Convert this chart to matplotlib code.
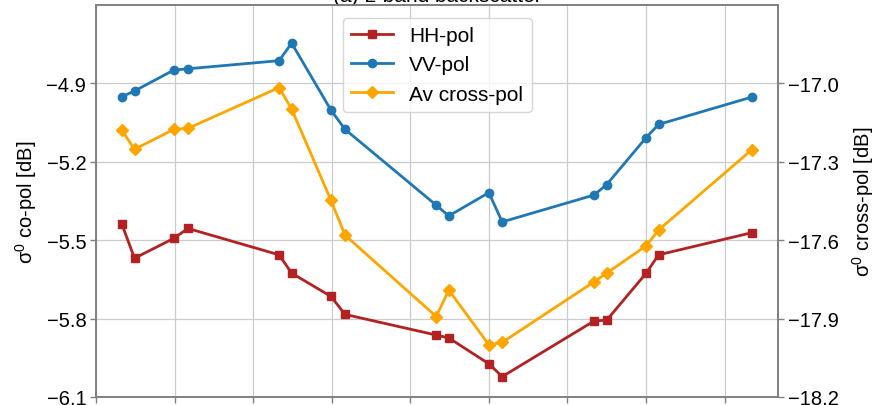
import matplotlib
matplotlib.use("Agg")
import matplotlib.pyplot as plt

plt.rcParams['font.family'] = ['Liberation Sans', 'DejaVu Sans']
plt.rcParams['mathtext.fontset'] = 'custom'
plt.rcParams['mathtext.rm'] = 'Liberation Sans'
plt.rcParams['mathtext.it'] = 'Liberation Sans'

x = [0.33, 0.49, 0.99, 1.17, 2.33, 2.49, 2.99, 3.17, 4.33, 4.49,
     5.0, 5.17, 6.34, 6.5, 7.0, 7.16, 8.35]
hh = [-5.439, -5.569, -5.493, -5.455, -5.556, -5.626, -5.715, -5.784, -5.863, -5.874,
      -5.973, -6.022, -5.809, -5.806, -5.627, -5.556, -5.471]
vv = [-4.951, -4.929, -4.849, -4.844, -4.813, -4.746, -5.002, -5.076, -5.366, -5.407,
      -5.318, -5.430, -5.327, -5.287, -5.108, -5.057, -4.952]
cross = [-17.180, -17.252, -17.176, -17.172, -17.016, -17.098, -17.447, -17.581, -17.892, -17.791,
         -18.000, -17.991, -17.759, -17.726, -17.622, -17.561, -17.253]

left_ticks = [-6.1, -5.8, -5.5, -5.2, -4.9]
right_ticks = [-18.2, -17.9, -17.6, -17.3, -17.0]
x_ticks = [0, 1, 2, 3, 4, 5, 6, 7, 8]

fig = plt.figure(figsize=(8.75, 4.06), dpi=100)
ax = fig.add_axes([96/875, 1-398/406, (778-96)/875, (398-6)/406])
ax2 = ax.twinx()

spine_col = '#808080'
l1, = ax.plot(x, hh, color='#b22222', marker='s', markersize=6, lw=2, label='HH-pol')
l2, = ax.plot(x, vv, color='#1f77b4', marker='o', markersize=6, lw=2, label='VV-pol')
l3, = ax2.plot(x, cross, color='#ffa500', marker='D', markersize=6, lw=2, label='Av cross-pol')

ax.set_xlim(0, 8.68)
ax.set_ylim(-6.1, -4.6)
ax2.set_ylim(-18.2, -16.7)
ax.set_yticks(left_ticks)
ax.set_yticklabels([f'{v:.1f}'.replace('-', '\u2212') for v in left_ticks])
ax2.set_yticks(right_ticks)
ax2.set_yticklabels([f'{v:.1f}'.replace('-', '\u2212') for v in right_ticks])
ax.set_xticks(x_ticks)
ax.set_xticklabels([])

ax.grid(True, color='#cccccc', lw=0.9)
ax.set_axisbelow(True)
for a in (ax, ax2):
    for s in a.spines.values():
        s.set_color(spine_col)
        s.set_linewidth(1.2)
    a.tick_params(colors=spine_col, labelcolor='black', labelsize=14.5, length=4, width=1, pad=3)

ax.set_ylabel('σ$^{0}$ co-pol [dB]', fontsize=14.5, labelpad=5)
ax2.set_ylabel('σ$^{0}$ cross-pol [dB]', fontsize=14.5, labelpad=8)
ax.set_title('(a) L-band backscatter', fontsize=15, pad=1)

leg = ax.legend(handles=[l1, l2, l3], loc='upper center', fontsize=15,
                framealpha=0.8, edgecolor='#cccccc', borderaxespad=0.6)
leg.set_zorder(5)

fig.savefig('out.png', dpi=100)
